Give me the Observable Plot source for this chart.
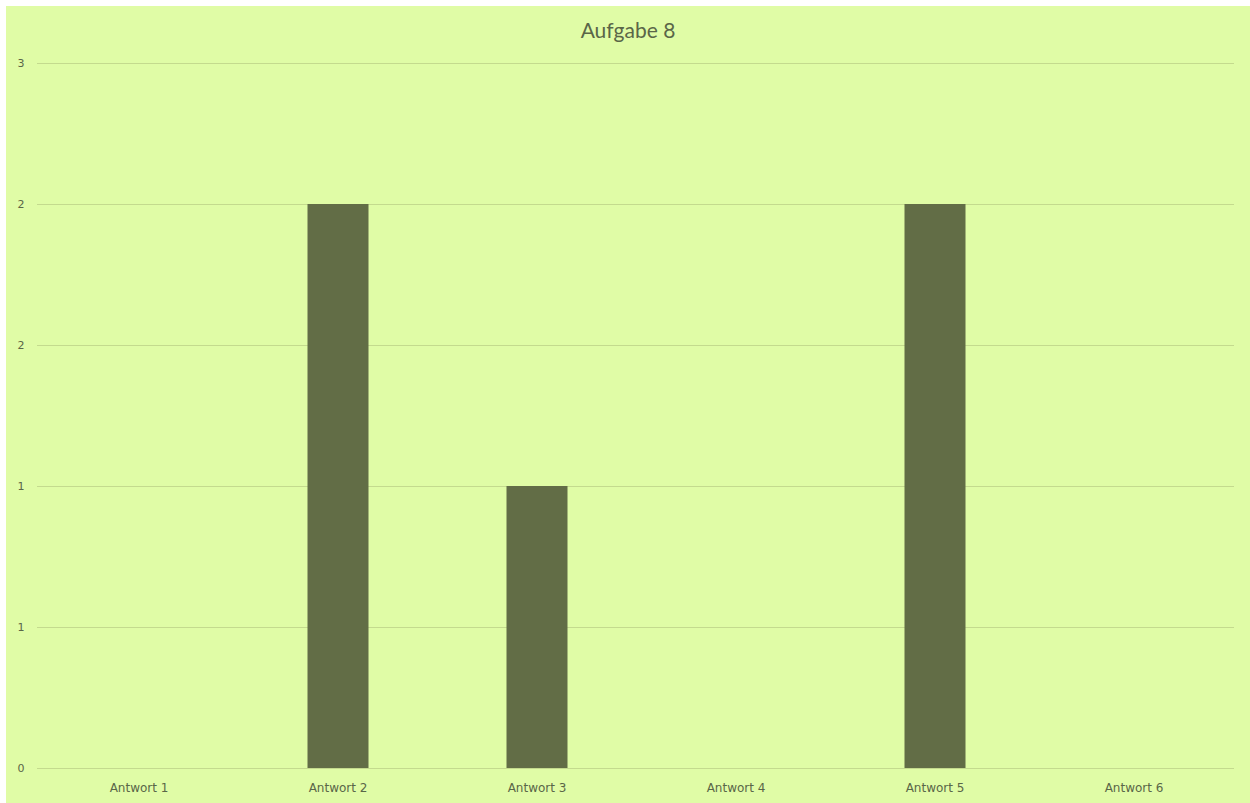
<!DOCTYPE html>
<html>
<head>
<meta charset="utf-8">
<script src="https://cdn.jsdelivr.net/npm/d3@7"></script>
<script src="https://cdn.jsdelivr.net/npm/@observablehq/plot@0.6"></script>
<style>
  html, body { margin: 0; padding: 0; background: #ffffff; }
  #panel { position: absolute; left: 6px; top: 6px; width: 1244px; height: 797px; background: #e0fca6; overflow: hidden; }
  #title { position: absolute; left: 0; top: 11px; width: 1244px; text-align: center; font-family: Lato, "Open Sans", sans-serif; font-size: 21px; color: #5a6648; }
  #chart { position: absolute; left: 0; top: 0; }
</style>
</head>
<body>
<div id="panel">
  <div id="chart"></div>
  <div id="title">Aufgabe 8</div>
</div>
<script>
const categories = ["Antwort 1", "Antwort 2", "Antwort 3", "Antwort 4", "Antwort 5", "Antwort 6"];
const values = [0, 2, 1, 0, 2, 0];
const yTicks = [0, 0.5, 1, 1.5, 2, 2.5];
const yTickLabels = ["0", "1", "1", "2", "2", "3"];

const data = categories.map((c, i) => ({cat: c, val: values[i]}));
const textColor = "#5a6648";

const chart = Plot.plot({
  width: 1244,
  height: 797,
  marginTop: 57,
  marginBottom: 35,
  marginLeft: 31,
  marginRight: 16,
  style: {background: "transparent", fontFamily: "'DejaVu Sans', Verdana, sans-serif", fontSize: "12px", color: textColor},
  x: {domain: categories, padding: 0, label: null},
  y: {domain: [0, 2.5], label: null},
  marks: [
    Plot.gridY(yTicks, {stroke: "#c4da8e", strokeOpacity: 1, strokeWidth: 1.2}),
    Plot.axisY(yTicks, {tickSize: 0, tickPadding: 13, fontSize: 11, tickFormat: (d) => yTickLabels[yTicks.indexOf(d)], fill: textColor, label: null}),
    Plot.axisX({tickSize: 0, tickPadding: 15, fill: textColor, label: null}),
    Plot.barY(data, {x: "cat", y: "val", fill: "#626d46", insetLeft: 69.5, insetRight: 68.5})
  ]
});
document.getElementById("chart").appendChild(chart);
</script>
</body>
</html>
